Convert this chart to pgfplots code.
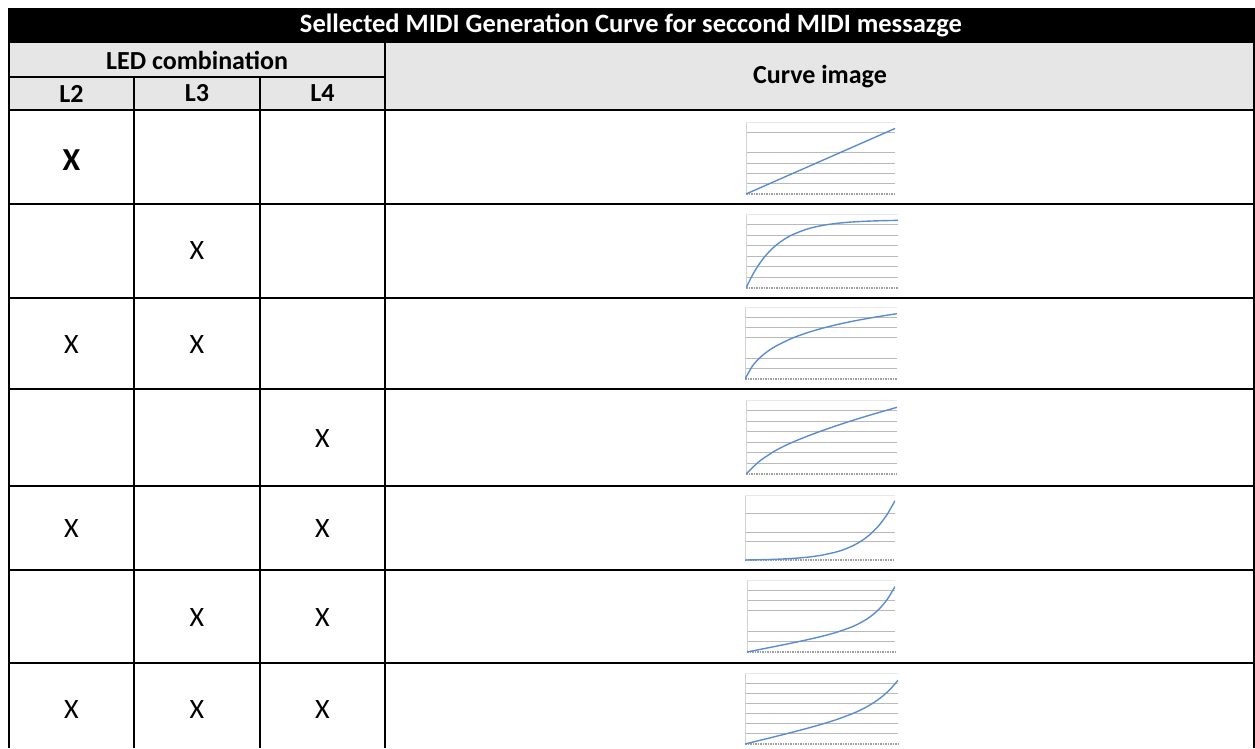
\documentclass[border=0pt]{standalone}
\usepackage{fontspec}
\setmainfont{Carlito}
\usepackage{pgfplots}
\pgfplotsset{compat=1.18}
\definecolor{hdr}{RGB}{230,230,230}
\definecolor{curve}{RGB}{91,141,206}
\pgfplotsset{mini/.style={
  scale only axis, xmin=0, xmax=1, ymin=0, ymax=1,
  anchor=south west,
  axis x line*=bottom, axis y line*=left,
  axis line style={-},
  x axis line style={gray!75, line width=2pt, dash pattern=on 1.5pt off 1pt},
  y axis line style={gray!35, line width=0.8pt},
  xtick=\empty, yticklabels={}, major tick length=0pt, minor y tick num=0,
  ymajorgrids, grid style={gray!55, line width=0.8pt},
  extra y ticks={1}, extra y tick labels={}, extra y tick style={grid style={gray!18, line width=0.8pt}},
}, cv/.style={curve, line width=1.4pt, smooth, no marks}}
\begin{document}
\begin{tikzpicture}
\begin{scope}[x=1pt,y=-1pt,shift={(0pt,748pt)}]
\useasboundingbox (0,0) rectangle (1255,748);
% title bar
\fill[black] (8,8) rectangle (1255,43);
\node[text=white, font=\fontsize{26.5}{30}\selectfont\bfseries] at (631,25.5) {Sellected MIDI Generation Curve for seccond MIDI messazge};
% header fill
\fill[hdr] (9,43) rectangle (1254,110);
% lines
\begin{scope}[line width=2pt]
\draw (9,43) -- (9,748);
\draw (134,77) -- (134,748);
\draw (260,77) -- (260,748);
\draw (385,43) -- (385,748);
\draw (1254,43) -- (1254,748);
\draw (9,77) -- (385,77);
\foreach \yy in {110,204,298,389,486,570,663} {\draw (8,\yy) -- (1255,\yy);}
\end{scope}
% header texts
\begin{scope}[font=\fontsize{26}{30}\selectfont\bfseries]
\node at (197,60) {LED combination};
\node at (71.5,93.5) {L2};
\node at (197,93.5) {L3};
\node at (322.5,93.5) {L4};
\node at (820,76.5) {Curve image};
\end{scope}
% X marks
\node[font=\fontsize{32}{36}\selectfont\bfseries] at (71.5,160) {X};
\begin{scope}[font=\fontsize{28}{30}\selectfont]
\node at (197,251) {X};
\node at (71.5,345) {X};
\node at (197,345) {X};
\node at (322.5,439) {X};
\node at (71.5,529) {X};
\node at (322.5,529) {X};
\node at (197,618) {X};
\node at (322.5,618) {X};
\node at (71.5,710) {X};
\node at (197,710) {X};
\node at (322.5,710) {X};
\end{scope}
\end{scope}
% chart 1: linear
\begin{axis}[mini, at={(746pt,554pt)}, width=149pt, height=72pt, ytick={0.1429,0.2857,0.4286,0.5714,0.8571}]
\addplot[cv] coordinates {(0,0) (0.5,0.455) (1,0.91)};
\end{axis}
% chart 2: fast saturating
\begin{axis}[mini, at={(746pt,460pt)}, width=152pt, height=74pt, ytick={0.1429,0.2857,0.4286,0.5714,0.7143,0.8571}]
\addplot[cv] coordinates {(0,0) (0.05,0.2035) (0.1,0.362) (0.15,0.4854) (0.2,0.5816) (0.25,0.6564) (0.3,0.7147) (0.4,0.7955) (0.5,0.8445) (0.6,0.8742) (0.7,0.8922) (0.8,0.9032) (0.9,0.9098) (1,0.9138)};
\end{axis}
% chart 3: logarithmic
\begin{axis}[mini, at={(745pt,369pt)}, width=152pt, height=72pt, ytick={0.1429,0.2857,0.5714,0.7143,0.8571}]
\addplot[cv] coordinates {(0,0) (0.05,0.183) (0.1,0.2996) (0.15,0.3854) (0.2,0.4533) (0.3,0.5574) (0.4,0.6363) (0.5,0.6998) (0.6,0.7529) (0.7,0.7986) (0.8,0.8387) (0.9,0.8744) (1,0.9068)};
\end{axis}
% chart 4: mild concave
\begin{axis}[mini, at={(746pt,274pt)}, width=151pt, height=74pt, ytick={0.1429,0.2857,0.4286,0.5714,0.7143,0.8571}]
\addplot[cv] coordinates {(0,0) (0.05,0.10) (0.1,0.19) (0.2,0.322) (0.3,0.422) (0.4,0.506) (0.5,0.582) (0.6,0.653) (0.7,0.720) (0.8,0.783) (0.9,0.843) (1,0.901)};
\end{axis}
% chart 5: steep exponential
\begin{axis}[mini, at={(745pt,188pt)}, width=150pt, height=65pt, ytick={0.2857,0.4286,0.7143}]
\addplot[cv] coordinates {(0,0) (0.1,0.004) (0.2,0.0106) (0.3,0.0216) (0.4,0.0396) (0.5,0.0693) (0.6,0.1182) (0.65,0.1536) (0.7,0.1989) (0.75,0.2572) (0.8,0.332) (0.85,0.428) (0.9,0.5514) (0.95,0.710) (1,0.913)};
\end{axis}
% chart 6: linear + exponential
\begin{axis}[mini, at={(747pt,96pt)}, width=148pt, height=72pt, ytick={0.1429,0.2857,0.5714,0.7143,0.8571}]
\addplot[cv] coordinates {(0,0) (0.1,0.0405) (0.2,0.0814) (0.3,0.1233) (0.4,0.1672) (0.5,0.2149) (0.6,0.2705) (0.7,0.3419) (0.75,0.3879) (0.8,0.445) (0.85,0.5177) (0.9,0.6122) (0.95,0.7381) (1,0.9084)};
\end{axis}
% chart 7: mild convex
\begin{axis}[mini, at={(745pt,4pt)}, width=153pt, height=71pt, ytick={0.1429,0.2857,0.4286,0.5714,0.7143,0.8571}]
\addplot[cv] coordinates {(0,0) (0.1,0.0528) (0.2,0.1062) (0.3,0.1607) (0.4,0.2174) (0.5,0.2779) (0.6,0.3454) (0.7,0.4257) (0.75,0.4736) (0.8,0.5292) (0.85,0.5951) (0.9,0.675) (0.95,0.7737) (1,0.8979)};
\end{axis}
\end{tikzpicture}
\end{document}
